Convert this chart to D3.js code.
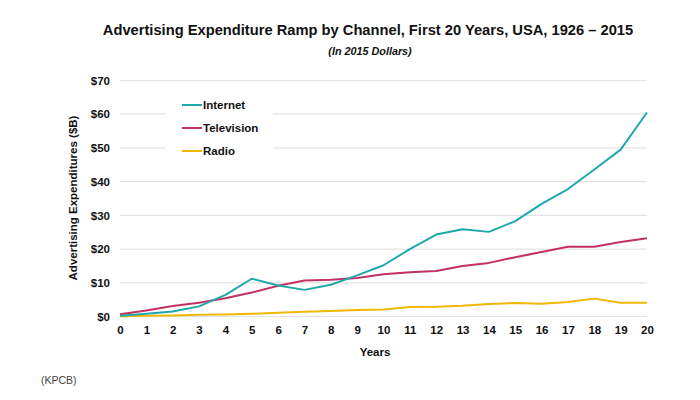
<!DOCTYPE html>
<html><head><meta charset="utf-8">
<script src="https://cdn.jsdelivr.net/npm/d3@7"></script>
<style>body{margin:0;background:#fff}svg{display:block}text{font-family:"Liberation Sans",Arial,sans-serif}</style>
</head><body><svg id="c" width="700" height="400"></svg>
<script>
const years = d3.range(0, 21);
const internet = [0.2,0.8,1.5,3.0,6.4,11.2,9.2,7.9,9.4,12.2,15.2,20.0,24.3,25.9,25.1,28.3,33.4,37.8,43.6,49.5,60.5];
const television = [0.7,1.8,3.1,4.1,5.4,7.1,9.1,10.7,10.9,11.4,12.5,13.1,13.5,15.0,15.9,17.6,19.1,20.7,20.7,22.1,23.2];
const radio = [0.1,0.2,0.3,0.5,0.6,0.8,1.1,1.4,1.6,1.9,2.1,2.8,2.9,3.2,3.7,4.0,3.8,4.3,5.3,4.1,4.1];
const yTicks = [0,10,20,30,40,50,60,70];
const seriesNames = ["Internet","Television","Radio"];
const seriesColors = ["#1ea8ae","#c3325f","#f2b705"];
const seriesData = [internet, television, radio];

const svg = d3.select("#c");
const x = d3.scaleLinear().domain([0,20]).range([120,647]);
const y = d3.scaleLinear().domain([0,70]).range([316.5,80.5]);

// title
svg.append("text").attr("x",368).attr("y",35).attr("text-anchor","middle")
  .attr("font-size",14.7).attr("font-weight","bold").attr("fill","#111")
  .text("Advertising Expenditure Ramp by Channel, First 20 Years, USA, 1926 – 2015");
svg.append("text").attr("x",370).attr("y",55).attr("text-anchor","middle")
  .attr("font-size",10.8).attr("font-weight","bold").attr("font-style","italic").attr("fill","#111")
  .text("(In 2015 Dollars)");

// grid
svg.append("g").selectAll("line").data(yTicks).join("line")
  .attr("x1",x(0)).attr("x2",x(20)).attr("y1",d=>y(d)).attr("y2",d=>y(d))
  .attr("stroke","#e3e3e3").attr("stroke-width",1.2);

// y axis labels
const yAxis = d3.axisLeft(y).tickValues(yTicks).tickFormat(d=>"$"+d).tickSize(0).tickPadding(10);
const gy = svg.append("g").attr("transform",`translate(${x(0)},0)`).call(yAxis);
gy.select(".domain").remove();
gy.selectAll("text").attr("font-size",11.5).attr("font-weight","bold").attr("fill","#111")
  .attr("font-family","Liberation Sans, Arial, sans-serif");

// x axis labels
const xAxis = d3.axisBottom(x).tickValues(years).tickFormat(d3.format("d")).tickSize(0).tickPadding(9);
const gx = svg.append("g").attr("transform",`translate(0,${y(0)})`).call(xAxis);
gx.select(".domain").remove();
gx.selectAll("text").attr("font-size",11.5).attr("font-weight","bold").attr("fill","#111")
  .attr("font-family","Liberation Sans, Arial, sans-serif");

svg.append("text").attr("x",375).attr("y",356).attr("text-anchor","middle")
  .attr("font-size",11.5).attr("font-weight","bold").attr("fill","#111").text("Years");
svg.append("text").attr("transform","translate(77,198) rotate(-90)").attr("text-anchor","middle")
  .attr("font-size",11.5).attr("font-weight","bold").attr("fill","#111").text("Advertising Expenditures ($B)");
svg.append("text").attr("x",41).attr("y",384)
  .attr("font-size",10.5).attr("fill","#444").text("(KPCB)");

// legend background
svg.append("rect").attr("x",166).attr("y",92).attr("width",107).attr("height",72).attr("fill","#fff");

// lines
const line = d3.line().x((d,i)=>x(years[i])).y(d=>y(d));
seriesData.slice().reverse().forEach((s,k)=>{
  const i = seriesData.length-1-k;
  svg.append("path").datum(s).attr("d",line).attr("fill","none")
    .attr("stroke",seriesColors[i]).attr("stroke-width",2).attr("stroke-linejoin","round");
});

// legend
const lg = svg.append("g").selectAll("g").data(seriesNames).join("g")
  .attr("transform",(d,i)=>`translate(182,${105+i*23})`);
lg.append("line").attr("x1",0).attr("x2",20).attr("stroke",(d,i)=>seriesColors[i]).attr("stroke-width",2);
lg.append("text").attr("x",21).attr("dy","0.35em").attr("font-size",11.5).attr("font-weight","bold")
  .attr("fill","#111").text(d=>d);
</script></body></html>
